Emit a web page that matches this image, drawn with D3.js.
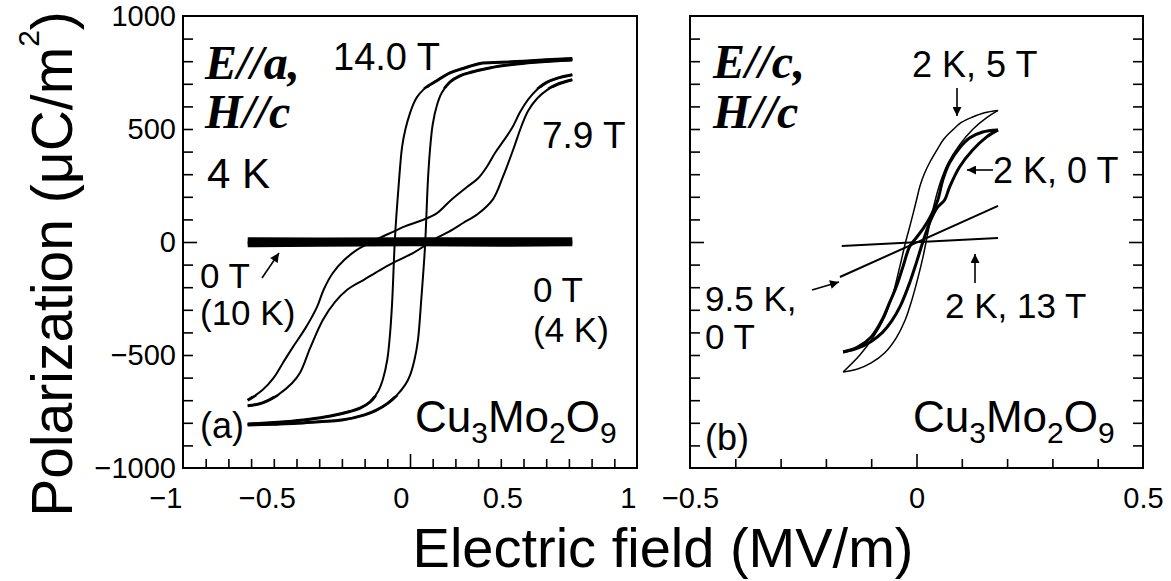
<!DOCTYPE html>
<html><head><meta charset="utf-8">
<script src="https://cdn.jsdelivr.net/npm/d3@7"></script>
<style>
body{margin:0;background:#fff;}
svg{display:block;}
text{font-family:"Liberation Sans",Arial,Helvetica,sans-serif;fill:#000;}
.serif{font-family:"Liberation Serif","Times New Roman",serif;font-weight:bold;font-style:italic;}
</style></head><body>
<svg id="chart" width="1171" height="581"></svg>
<script>
// ---------- tick labels ----------
const xTicksA = [-1, -0.5, 0, 0.5, 1];
const xTicksB = [-0.5, 0, 0.5];
const yTicks = [-1000, -500, 0, 500, 1000];

// ---------- panel (a): E//a, H//c, 4 K ----------
// 0 T flat traces (4 K and 10 K)
const E_0T = [-0.715, -0.4, 0, 0.4, 0.715];
const P_0T_4K = [6, 4, 5, 6, 5];
const P_0T_10K = [-10, -8, -6, -8, -6];
// 14.0 T loop, ascending branch
const E_14_up = [-0.715, -0.6, -0.5, -0.4, -0.3, -0.2, -0.15, -0.1, -0.06, -0.02, 0.0, 0.02, 0.035, 0.05, 0.066, 0.079, 0.088, 0.1, 0.119, 0.14, 0.176, 0.22, 0.265, 0.35, 0.45, 0.55, 0.65, 0.715];
const P_14_up = [-810, -806, -802, -795, -788, -765, -745, -715, -680, -630, -590, -520, -434, -250, -22, 274, 407, 520, 606, 660, 708, 735, 750, 770, 785, 795, 802, 805];
// 14.0 T loop, descending branch
const E_14_dn = [0.715, 0.6, 0.5, 0.4, 0.309, 0.24, 0.176, 0.12, 0.08, 0.057, 0.03, 0.013, 0.0, -0.02, -0.035, -0.05, -0.066, -0.079, -0.088, -0.1, -0.119, -0.14, -0.176, -0.22, -0.265, -0.35, -0.45, -0.55, -0.65, -0.715];
const P_14_dn = [812, 806, 800, 795, 790, 770, 748, 715, 690, 672, 640, 606, 570, 500, 420, 250, 22, -274, -407, -520, -606, -660, -708, -735, -750, -770, -785, -795, -802, -805];
// 7.9 T loop, ascending branch
const E_79_up = [-0.715, -0.65, -0.58, -0.52, -0.485, -0.44, -0.384, -0.33, -0.278, -0.2, -0.132, -0.06, 0.013, 0.06, 0.101, 0.17, 0.234, 0.3, 0.366, 0.41, 0.454, 0.49, 0.52, 0.56, 0.6, 0.65, 0.715];
const P_79_up = [-725, -712, -675, -625, -580, -470, -345, -265, -212, -165, -124, -85, -49, -20, 9, 45, 84, 125, 190, 290, 407, 510, 580, 635, 670, 698, 718];
// 7.9 T loop, descending branch
const E_79_dn = [0.715, 0.65, 0.6, 0.56, 0.52, 0.485, 0.45, 0.41, 0.375, 0.34, 0.3, 0.251, 0.18, 0.119, 0.05, -0.02, -0.075, -0.15, -0.234, -0.29, -0.34, -0.38, -0.41, -0.46, -0.516, -0.56, -0.6, -0.65, -0.715];
const P_79_dn = [740, 725, 705, 675, 630, 575, 505, 445, 395, 335, 282, 243, 185, 128, 95, 70, 45, 10, -35, -80, -137, -210, -288, -380, -465, -535, -600, -655, -700];

// ---------- panel (b): E//c, H//c ----------
// 2 K, 0 T loop
const E_b0_up = [-0.162, -0.13, -0.1, -0.075, -0.055, -0.035, -0.015, 0.0, 0.014, 0.03, 0.045, 0.062, 0.073, 0.095, 0.124, 0.155, 0.18];
const P_b0_up = [-487, -470, -440, -400, -350, -280, -180, -90, 0, 90, 150, 186, 243, 332, 407, 465, 496];
const E_b0_dn = [0.18, 0.146, 0.117, 0.095, 0.073, 0.058, 0.047, 0.03, 0.015, 0.0, -0.015, -0.03, -0.045, -0.062, -0.075, -0.1, -0.13, -0.162];
const P_b0_dn = [496, 487, 460, 416, 350, 274, 186, 110, 60, 20, -20, -110, -200, -280, -340, -420, -465, -487];
// 2 K, 5 T loop
const E_b5_up = [-0.162, -0.13, -0.1, -0.07, -0.045, -0.025, -0.01, 0.003, 0.015, 0.025, 0.037, 0.052, 0.07, 0.095, 0.125, 0.155, 0.18];
const P_b5_up = [-575, -562, -535, -490, -425, -345, -255, -160, -60, 40, 150, 260, 350, 430, 500, 550, 582];
const E_b5_dn = [0.18, 0.15, 0.124, 0.1, 0.08, 0.06, 0.045, 0.03, 0.018, 0.008, 0.0, -0.012, -0.024, -0.037, -0.052, -0.07, -0.095, -0.125, -0.162];
const P_b5_dn = [582, 572, 553, 530, 496, 455, 407, 355, 305, 250, 186, 90, 0, -110, -230, -330, -420, -500, -575];
// 2 K, 13 T and 9.5 K, 0 T (nearly linear)
const E_b13 = [-0.165, 0.18];
const P_b13 = [-18, 18];
const E_b95 = [-0.169, 0.18];
const P_b95 = [-155, 160];

// ---------- drawing ----------
const svg = d3.select("#chart");
const yTop = 16, yBot = 468;
const xa = d3.scaleLinear().domain([-1, 1]).range([183, 637]);
const xb = d3.scaleLinear().domain([-0.5, 0.5]).range([690, 1143]);
const y = d3.scaleLinear().domain([-1000, 1000]).range([yBot, yTop]);

const defs = svg.append("defs");
defs.append("marker").attr("id", "ah").attr("viewBox", "0 0 10 10")
  .attr("refX", 10).attr("refY", 5).attr("markerWidth", 12).attr("markerHeight", 9)
  .attr("markerUnits", "userSpaceOnUse").attr("orient", "auto")
  .append("path").attr("d", "M0,0 L10,5 L0,10 z").attr("fill", "#000");
// zones where the measured traces are noisy (drawn with a slightly heavier stroke)
const clip = defs.append("clipPath").attr("id", "noisy");
clip.append("rect").attr("x", 183).attr("y", yTop).attr("width", 454).attr("height", y(680) - yTop);
clip.append("rect").attr("x", 183).attr("y", y(-680)).attr("width", 454).attr("height", yBot - y(-680));

const fmt = v => (v < 0 ? "\u2212" : "") + Math.abs(v);
const minorX = d3.range(-9, 10).map(i => i / 10);
const minorXb = d3.range(-4, 5).map(i => i / 10);
const minorY = d3.range(-9, 10).map(i => i * 100);

function styleTicks(g, zeroLen, minorLen, dir) {
  g.select(".domain").remove();
  g.selectAll(".tick line").attr("stroke", "#000").attr("stroke-width", 1.6)
    .each(function (d) {
      const L = d === 0 ? zeroLen : minorLen;
      const s = d3.select(this);
      if (dir === "x") s.attr("y2", -L);
      else if (dir === "yl") s.attr("x2", L);
      else s.attr("x2", -L);
    });
}

function panel(xs, minorXs, xLabels, rightTicks, anchorEnd) {
  svg.append("g").attr("transform", `translate(0,${yBot})`)
    .call(d3.axisBottom(xs).tickValues(minorXs).tickSize(-9).tickFormat(""))
    .call(g => styleTicks(g, 14, 9, "x"));
  svg.append("g").attr("transform", `translate(${xs.range()[0]},0)`)
    .call(d3.axisLeft(y).tickValues(minorY).tickSize(-10).tickFormat(""))
    .call(g => styleTicks(g, 14, 10, "yl"));
  if (rightTicks) {
    svg.append("g").attr("transform", `translate(${xs.range()[1]},0)`)
      .call(d3.axisRight(y).tickValues(minorY).tickSize(-10).tickFormat(""))
      .call(g => styleTicks(g, 14, 10, "yr"));
  }
  const gl = svg.append("g").attr("transform", `translate(0,${yBot})`)
    .call(d3.axisBottom(xs).tickValues(xLabels).tickSize(0).tickPadding(19).tickFormat(fmt));
  gl.select(".domain").remove();
  gl.attr("font-family", null).attr("font-size", null);
  gl.selectAll("text").style("font-size", "29px");
  if (anchorEnd) gl.attr("text-anchor", "end").selectAll("text").attr("dx", "-1");
  svg.append("rect").attr("x", xs.range()[0]).attr("y", yTop)
    .attr("width", xs.range()[1] - xs.range()[0]).attr("height", yBot - yTop)
    .attr("fill", "none").attr("stroke", "#000").attr("stroke-width", 2);
}

panel(xa, minorX, xTicksA, false, true);
panel(xb, minorXb, xTicksB, true, false);

const gy = svg.append("g").attr("transform", "translate(183,0)")
  .call(d3.axisLeft(y).tickValues(yTicks).tickSize(0).tickPadding(7).tickFormat(fmt));
gy.select(".domain").remove();
gy.attr("font-family", null).attr("font-size", null);
gy.selectAll("text").style("font-size", "29px");

function curve(xs, E, P, w, smooth, noisyW) {
  const line = d3.line().x((d, i) => xs(E[i])).y((d, i) => y(P[i]));
  if (smooth) line.curve(d3.curveCatmullRom.alpha(0.5));
  const dd = line(E);
  svg.append("path").attr("d", dd).attr("fill", "none")
    .attr("stroke", "#000").attr("stroke-width", w).attr("stroke-linejoin", "round");
  if (noisyW) {
    svg.append("path").attr("d", dd).attr("fill", "none").attr("clip-path", "url(#noisy)")
      .attr("stroke", "#000").attr("stroke-width", noisyW).attr("stroke-linejoin", "round");
  }
}
curve(xa, E_0T, P_0T_4K, 7, false);
curve(xa, E_0T, P_0T_10K, 6, false);
curve(xa, E_14_up, P_14_up, 2, true, 3);
curve(xa, E_14_dn, P_14_dn, 2, true, 3);
curve(xa, E_79_up, P_79_up, 2, true, 3);
curve(xa, E_79_dn, P_79_dn, 2, true, 3);

curve(xb, E_b5_up, P_b5_up, 1.5, true);
curve(xb, E_b5_dn, P_b5_dn, 1.5, true);
curve(xb, E_b0_up, P_b0_up, 3, true);
curve(xb, E_b0_dn, P_b0_dn, 3, true);
curve(xb, E_b13, P_b13, 2, false);
curve(xb, E_b95, P_b95, 2, false);

function txt(x, yy, s, size, cls) {
  const t = svg.append("text").attr("x", x).attr("y", yy).style("font-size", size + "px").text(s);
  if (cls) t.attr("class", cls);
  return t;
}
function arrow(x1, y1, x2, y2) {
  svg.append("line").attr("x1", x1).attr("y1", y1).attr("x2", x2).attr("y2", y2)
    .attr("stroke", "#000").attr("stroke-width", 1.6).attr("marker-end", "url(#ah)");
}
function formula(x, yy, size) {
  const t = svg.append("text").attr("x", x).attr("y", yy).style("font-size", size + "px");
  const sub = Math.round(size * 0.68), sh = Math.round(size * 0.25);
  t.append("tspan").text("Cu");
  t.append("tspan").attr("dy", sh).style("font-size", sub + "px").text("3");
  t.append("tspan").attr("dy", -sh).text("Mo");
  t.append("tspan").attr("dy", sh).style("font-size", sub + "px").text("2");
  t.append("tspan").attr("dy", -sh).text("O");
  t.append("tspan").attr("dy", sh).style("font-size", sub + "px").text("9");
}

txt(205, 79, "E//a,", 48, "serif");
txt(205, 128, "H//c", 48, "serif");
txt(207, 188, "4 K", 42);
txt(333, 70, "14.0 T", 38);
txt(542, 148, "7.9 T", 37);
txt(200, 288, "0 T", 35);
txt(200, 325, "(10 K)", 35);
arrow(262, 278, 279, 253);
txt(533, 302, "0 T", 35);
txt(533, 342, "(4 K)", 35);
txt(200, 438, "(a)", 36);
formula(415, 432, 44);

txt(713, 78, "E//c,", 48, "serif");
txt(713, 128, "H//c", 48, "serif");
txt(912, 77, "2 K, 5 T", 36);
arrow(957, 88, 957, 116);
txt(993, 183, "2 K, 0 T", 36);
arrow(993, 170, 967, 170);
txt(705, 311, "9.5 K,", 35);
txt(705, 349, "0 T", 35);
arrow(812, 290, 839, 282);
txt(945, 318, "2 K, 13 T", 35);
arrow(975, 283, 975, 254);
txt(705, 450, "(b)", 36);
formula(913, 432, 44);

const yt = svg.append("text").attr("transform", "translate(72,264) rotate(-90)")
  .attr("text-anchor", "middle").style("font-size", "57px");
yt.append("tspan").text("Polarization (\u03bcC/m");
yt.append("tspan").attr("dy", -33).style("font-size", "30px").text("2");
yt.append("tspan").attr("dy", 33).text(")");
svg.append("text").attr("x", 663).attr("y", 567).attr("text-anchor", "middle")
  .style("font-size", "56px").text("Electric field (MV/m)");
</script>
</body></html>
